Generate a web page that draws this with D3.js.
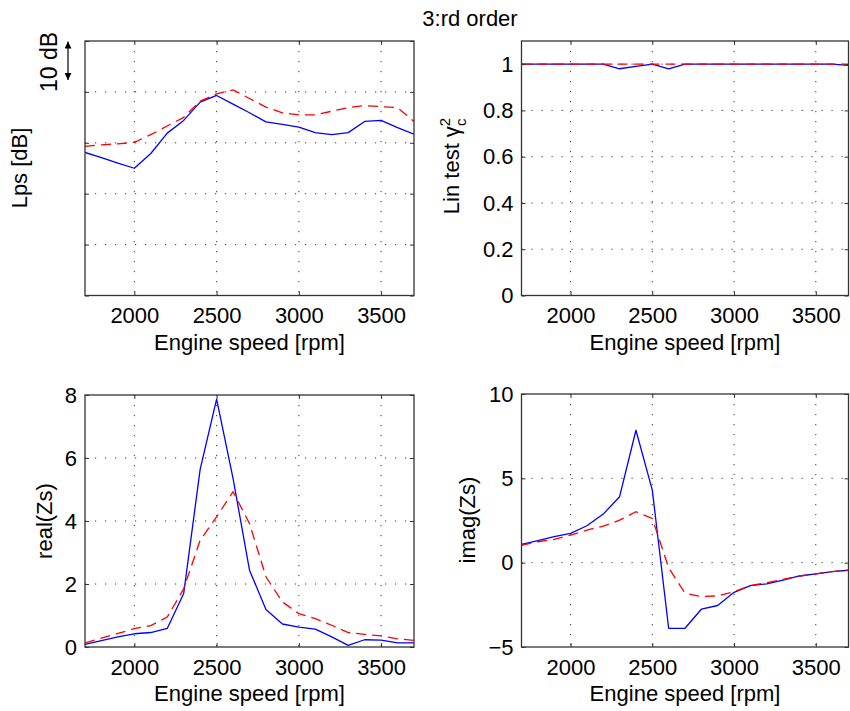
<!DOCTYPE html>
<html><head><meta charset="utf-8">
<script src="https://cdn.jsdelivr.net/npm/d3@7"></script>
<style>
body{margin:0;background:#fff}
svg text{font-family:"Liberation Sans",Arial,Helvetica,sans-serif;fill:#000}
</style>
</head><body>
<svg id="chart" width="850" height="711"></svg>
<script>
// ---------- data ----------
const rpm = [1700,1800,1900,2000,2100,2200,2300,2400,2500,2600,2700,2800,2900,3000,3100,3200,3300,3400,3500,3600,3700];
const xTickValues = [2000,2500,3000,3500];

// Lps [dB] (relative, 10 dB per grid division)
const lpsBlue = [28.1,27.1,26.0,25.0,27.9,31.9,34.4,38.0,39.3,37.6,35.9,34.1,33.6,33.1,32.0,31.6,32.0,34.2,34.4,33.0,31.7];
const lpsRed  = [29.3,29.6,29.8,30.1,31.6,33.3,35.0,38.2,39.6,40.4,38.7,37.0,35.9,35.5,35.5,36.2,36.9,37.3,37.1,36.9,34.2];
const lpsTicks = [0,10,20,30,40,50];

// Lin test gamma_c^2
const cohBlue = [1,1,1,1,1,1,0.98,0.99,1,0.98,1,1,1,1,1,1,1,1,1,1,0.995];
const cohRed  = [1,1,1,1,1,1,1,1,1,1,1,1,1,1,1,1,1,1,1,1,1];
const cohTicks = [0,0.2,0.4,0.6,0.8,1];

// real(Zs)
const reBlue = [0.08,0.2,0.32,0.42,0.46,0.59,1.70,5.64,7.87,5.35,2.44,1.19,0.73,0.63,0.57,0.32,0.05,0.23,0.22,0.13,0.13];
const reRed  = [0.13,0.28,0.43,0.58,0.68,0.95,1.85,3.39,4.13,4.93,3.92,2.23,1.43,1.06,0.90,0.69,0.46,0.40,0.35,0.26,0.21];
const reTicks = [0,2,4,6,8];

// imag(Zs)
const imBlue = [1.08,1.30,1.54,1.74,2.19,2.88,3.91,7.85,4.30,-3.89,-3.89,-2.76,-2.54,-1.76,-1.36,-1.26,-1.03,-0.79,-0.67,-0.53,-0.45];
const imRed  = [1.03,1.24,1.38,1.64,1.93,2.17,2.52,3.02,2.62,-0.30,-1.81,-2.01,-1.97,-1.72,-1.36,-1.18,-0.99,-0.79,-0.67,-0.53,-0.45];
const imTicks = [-5,0,5,10];

// ---------- drawing ----------
const svg = d3.select("#chart");
const FS = 22;

svg.append("text").attr("x",470).attr("y",26).attr("text-anchor","middle")
  .style("font-size",FS+"px").text("3:rd order");

function panel(o){
  const x = d3.scaleLinear().domain([1700,3700]).range([o.x0,o.x1]);
  const y = d3.scaleLinear().domain(o.ydom).range([o.y1,o.y0]);
  const g = svg.append("g");
  const id = "clip"+o.id;
  svg.append("clipPath").attr("id",id).append("rect")
    .attr("x",o.x0).attr("y",o.y0).attr("width",o.x1-o.x0).attr("height",o.y1-o.y0);

  // grid
  const grid = g.append("g").attr("stroke","#333").attr("stroke-width",1).attr("stroke-dasharray","1.2,8.8");
  xTickValues.forEach(v=>{
    grid.append("line").attr("x1",x(v)).attr("x2",x(v)).attr("y1",o.y0).attr("y2",o.y1);
  });
  o.yticks.forEach(v=>{
    const yy=y(v); if (Math.abs(yy-o.y0)<1||Math.abs(yy-o.y1)<1) return;
    grid.append("line").attr("x1",o.x0).attr("x2",o.x1).attr("y1",yy).attr("y2",yy);
  });

  // lines
  const line = d3.line().x((d,i)=>x(rpm[i])).y(d=>y(d));
  const lg = g.append("g").attr("clip-path",`url(#${id})`);
  lg.append("path").datum(o.blue).attr("d",line).attr("fill","none")
    .attr("stroke","#0000ff").attr("stroke-width",1.3).attr("stroke-linejoin","round");
  lg.append("path").datum(o.red).attr("d",line).attr("fill","none")
    .attr("stroke","#ff0000").attr("stroke-width",1.3).attr("stroke-dasharray","10,6");

  // axes
  const bottom = g.append("g").attr("transform",`translate(0,${o.y1})`)
    .call(d3.axisBottom(x).tickValues(xTickValues).tickSizeInner(-4).tickSizeOuter(0).tickPadding(12).tickFormat(d3.format("d")));
  const top = g.append("g").attr("transform",`translate(0,${o.y0})`)
    .call(d3.axisTop(x).tickValues(xTickValues).tickSizeInner(-4).tickSizeOuter(0).tickFormat(""));
  const left = g.append("g").attr("transform",`translate(${o.x0},0)`)
    .call(d3.axisLeft(y).tickValues(o.yticks).tickSizeInner(-4).tickSizeOuter(0).tickPadding(8)
      .tickFormat(o.ylabels ? d3.format("~g") : ""));
  const right = g.append("g").attr("transform",`translate(${o.x1},0)`)
    .call(d3.axisRight(y).tickValues(o.yticks).tickSizeInner(-4).tickSizeOuter(0).tickFormat(""));
  [bottom,top,left,right].forEach(a=>{
    a.select(".domain").remove();
    a.selectAll(".tick line").attr("stroke","#333").attr("stroke-width",1);
    a.selectAll("text").style("font-size",FS+"px").style("font-family",'"Liberation Sans",Arial,sans-serif');
  });

  g.append("rect").attr("x",o.x0).attr("y",o.y0).attr("width",o.x1-o.x0).attr("height",o.y1-o.y0)
    .attr("fill","none").attr("stroke","#333").attr("stroke-width",1.3);

  // x label
  g.append("text").attr("x",(o.x0+o.x1)/2).attr("y",o.y1+54).attr("text-anchor","middle")
    .style("font-size",FS+"px").text("Engine speed [rpm]");
  return {x,y,g};
}

const TL = panel({id:1,x0:85,x1:414,y0:41,y1:295.5,ydom:[0,50],yticks:lpsTicks,ylabels:false,blue:lpsBlue,red:lpsRed});
const TR = panel({id:2,x0:521.5,x1:848.5,y0:41,y1:295.5,ydom:[0,1.1],yticks:cohTicks,ylabels:true,blue:cohBlue,red:cohRed});
const BL = panel({id:3,x0:85,x1:414,y0:395,y1:647,ydom:[0,8],yticks:reTicks,ylabels:true,blue:reBlue,red:reRed});
const BR = panel({id:4,x0:521.5,x1:848.5,y0:394,y1:647,ydom:[-5,10],yticks:imTicks,ylabels:true,blue:imBlue,red:imRed});

function ylab(xb,yc,txt){
  return svg.append("text").attr("transform",`translate(${xb},${yc}) rotate(-90)`)
    .attr("text-anchor","middle").style("font-size",FS+"px").text(txt);
}
ylab(27,168,"Lps [dB]");
ylab(51.5,521,"real(Zs)");
ylab(475,520,"imag(Zs)");

// Lin test gamma label with stacked sub/superscript
const gl = svg.append("text").attr("transform",`translate(459,166) rotate(-90)`)
  .attr("text-anchor","middle").style("font-size",FS+"px");
gl.append("tspan").text("Lin test γ");
gl.append("tspan").attr("dy",-9).style("font-size","15px").text("2");
gl.append("tspan").attr("dx",-8.3).attr("dy",16).style("font-size","15px").text("c");

// 10 dB marker
svg.append("text").attr("transform",`translate(57,62) rotate(-90)`)
  .attr("text-anchor","middle").style("font-size","23px").text("10 dB");
const defs = svg.append("defs");
defs.append("marker").attr("id","ah").attr("viewBox","0 0 10 10").attr("refX",10).attr("refY",5)
  .attr("markerWidth",7).attr("markerHeight",7).attr("orient","auto-start-reverse").attr("markerUnits","userSpaceOnUse")
  .append("path").attr("d","M0,0 L10,5 L0,10 Z").attr("fill","#000");
svg.append("line").attr("x1",68).attr("x2",68).attr("y1",41.5).attr("y2",80)
  .attr("stroke","#000").attr("stroke-width",1.2)
  .attr("marker-start","url(#ah)").attr("marker-end","url(#ah)");
</script>
</body></html>
